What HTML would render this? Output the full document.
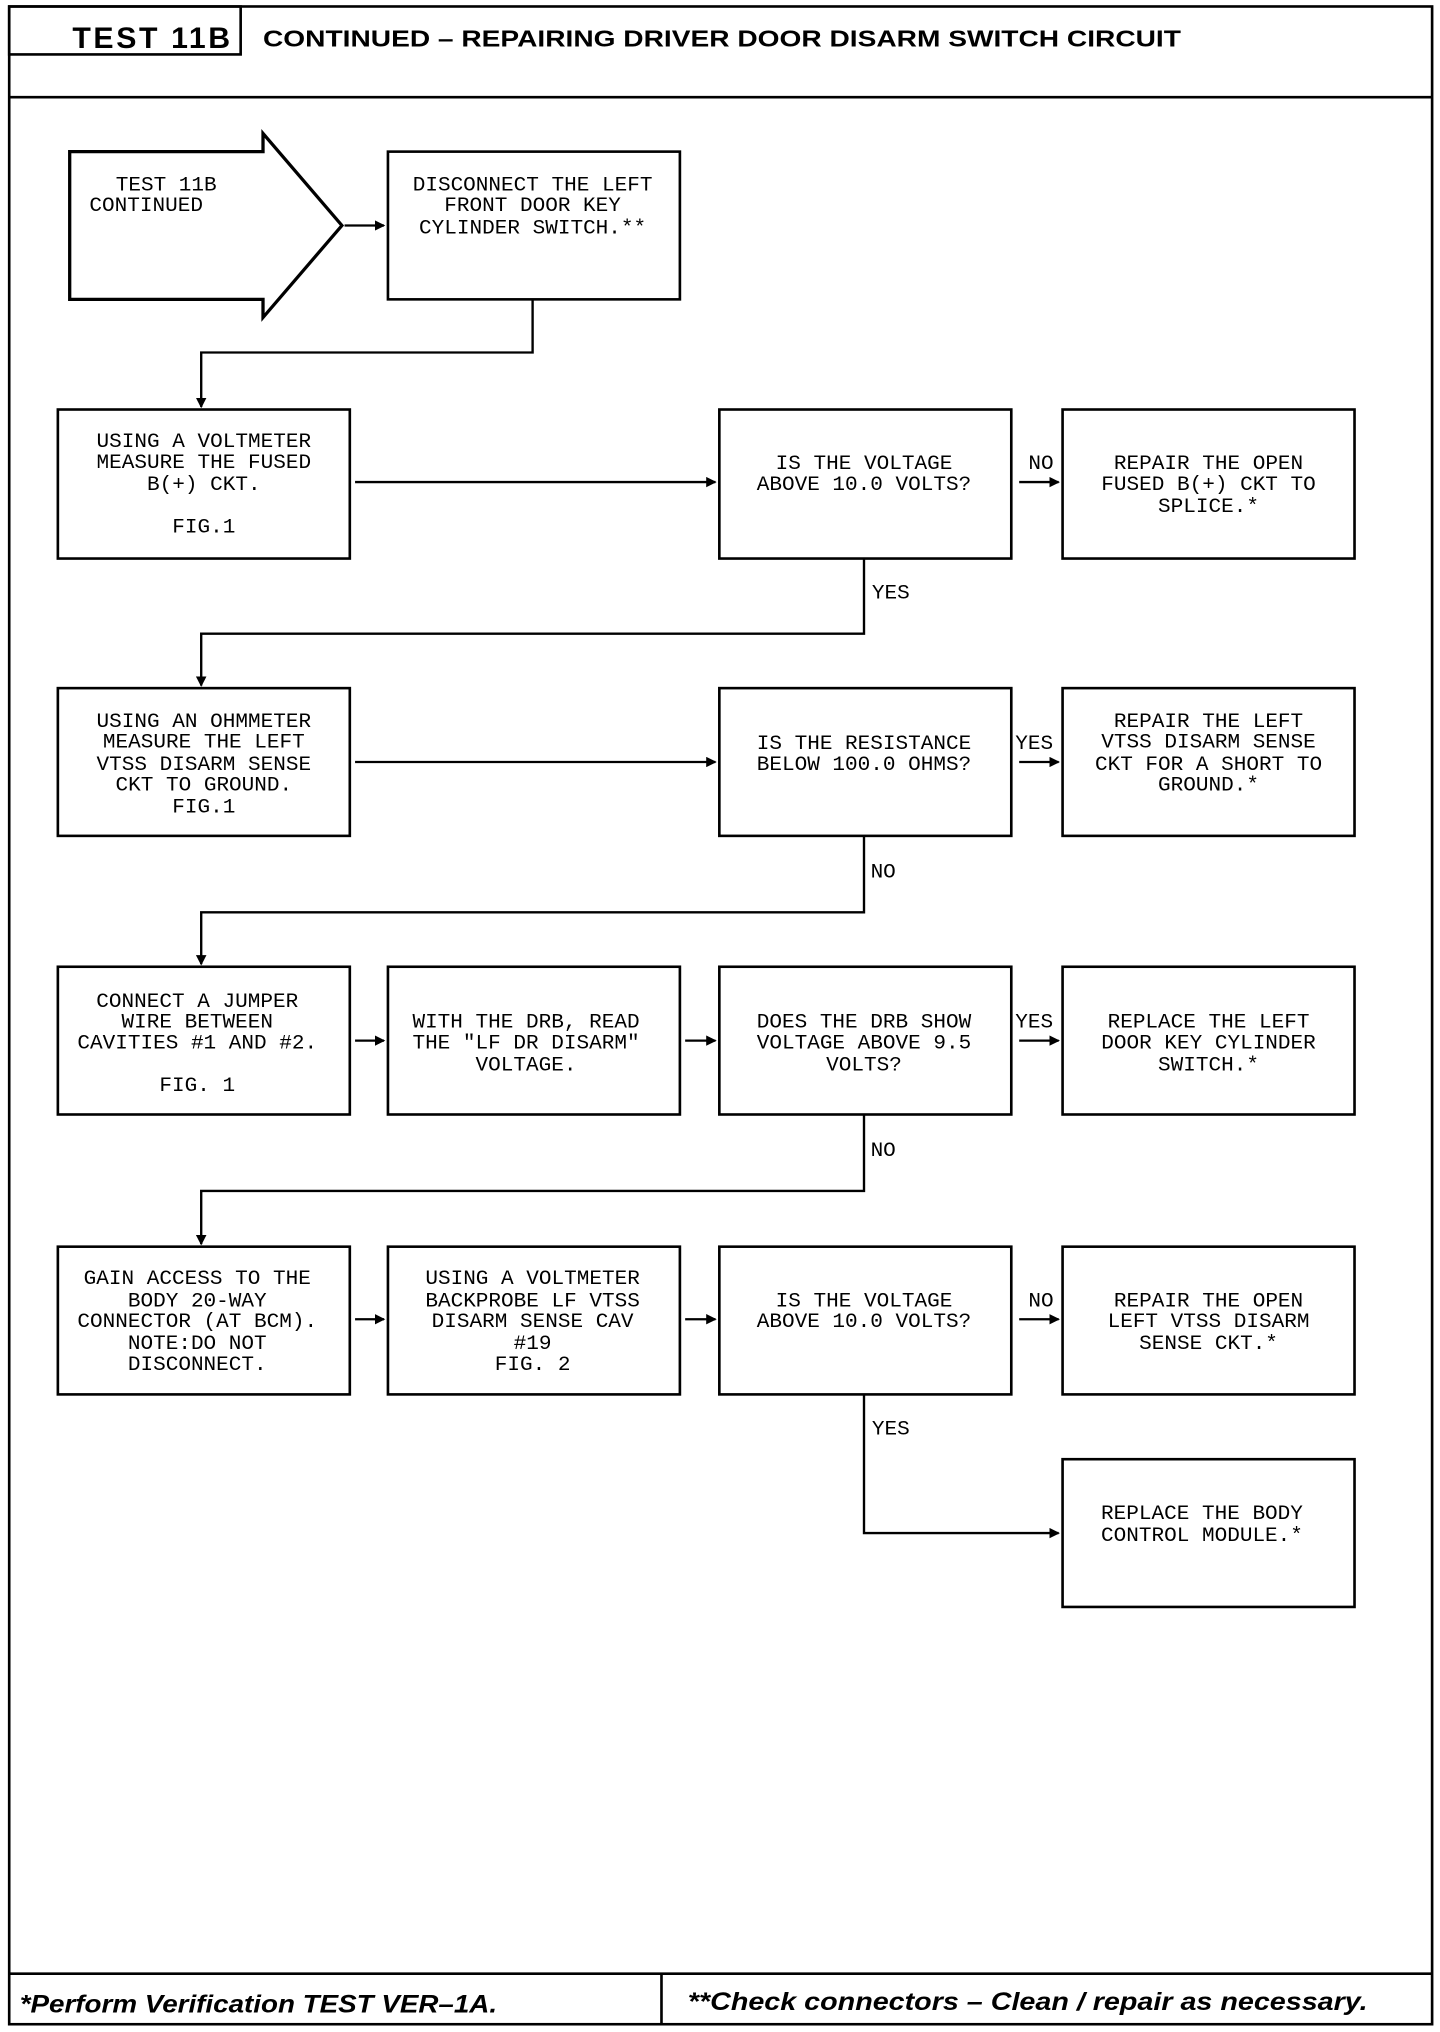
<!DOCTYPE html>
<html><head><meta charset="utf-8"><style>
html,body{margin:0;padding:0;background:#fff;}
svg{display:block;}
.m{font-family:"Liberation Mono",monospace;font-size:16px;fill:#000;}
</style></head><body>
<svg width="1440" height="2032" viewBox="0 0 1095 1568" preserveAspectRatio="none" xmlns="http://www.w3.org/2000/svg">
<defs><marker id="a" markerWidth="8" markerHeight="8" refX="7" refY="4" orient="auto" markerUnits="userSpaceOnUse"><path d="M0,0 L8,4 L0,8 Z" fill="#000"/></marker></defs>
<g fill="none" stroke="#000" stroke-width="2">
<rect x="7" y="5" width="1082" height="1557"/>
<rect x="7" y="5" width="176" height="37"/>
<line x1="7" y1="75" x2="1089" y2="75"/>
<line x1="7" y1="1523" x2="1089" y2="1523"/>
<line x1="503" y1="1523" x2="503" y2="1562"/>
<path d="M53,117 L200,117 L200,103 L260,174 L200,245 L200,231 L53,231 Z" stroke-width="2.5"/>
<rect x="295" y="117" width="222" height="114"/>
<rect x="44" y="316" width="222" height="115"/>
<rect x="547" y="316" width="222" height="115"/>
<rect x="808" y="316" width="222" height="115"/>
<rect x="44" y="531" width="222" height="114"/>
<rect x="547" y="531" width="222" height="114"/>
<rect x="808" y="531" width="222" height="114"/>
<rect x="44" y="746" width="222" height="114"/>
<rect x="295" y="746" width="222" height="114"/>
<rect x="547" y="746" width="222" height="114"/>
<rect x="808" y="746" width="222" height="114"/>
<rect x="44" y="962" width="222" height="114"/>
<rect x="295" y="962" width="222" height="114"/>
<rect x="547" y="962" width="222" height="114"/>
<rect x="808" y="962" width="222" height="114"/>
<rect x="808" y="1126" width="222" height="114"/>
</g>
<g fill="none" stroke="#000" stroke-width="1.8" marker-end="url(#a)">
<line x1="262" y1="174" x2="292" y2="174"/>
<polyline points="405,231 405,272 153,272 153,314"/>
<line x1="270" y1="372" x2="544" y2="372"/>
<line x1="775" y1="372" x2="805" y2="372"/>
<polyline points="657,431 657,489 153,489 153,529"/>
<line x1="270" y1="588" x2="544" y2="588"/>
<line x1="775" y1="588" x2="805" y2="588"/>
<polyline points="657,645 657,704 153,704 153,744"/>
<line x1="270" y1="803" x2="292" y2="803"/>
<line x1="521" y1="803" x2="544" y2="803"/>
<line x1="775" y1="803" x2="805" y2="803"/>
<polyline points="657,860 657,919 153,919 153,960"/>
<line x1="270" y1="1018" x2="292" y2="1018"/>
<line x1="521" y1="1018" x2="544" y2="1018"/>
<line x1="775" y1="1018" x2="805" y2="1018"/>
<polyline points="657,1076 657,1183 805,1183"/>
</g>
<text x="55" y="37" font-family="Liberation Sans,sans-serif" font-weight="bold" font-size="23" textLength="120">TEST 11B</text>
<text x="200" y="36" font-family="Liberation Sans,sans-serif" font-weight="bold" font-size="18" textLength="698" lengthAdjust="spacingAndGlyphs">CONTINUED – REPAIRING DRIVER DOOR DISARM SWITCH CIRCUIT</text>
<text x="15" y="1553" font-family="Liberation Sans,sans-serif" font-weight="bold" font-style="italic" font-size="19" textLength="363" lengthAdjust="spacingAndGlyphs">*Perform Verification TEST VER–1A.</text>
<text x="523" y="1551" font-family="Liberation Sans,sans-serif" font-weight="bold" font-style="italic" font-size="19" textLength="517" lengthAdjust="spacingAndGlyphs">**Check connectors – Clean / repair as necessary.</text>
<g class="m">
<text x="88" y="147">TEST 11B</text>
<text x="68" y="163">CONTINUED</text>
</g>
<g class="m" text-anchor="middle">
<text x="405" y="147">DISCONNECT THE LEFT</text><text x="405" y="163">FRONT DOOR KEY</text><text x="405" y="180">CYLINDER SWITCH.**</text>
<text x="155" y="345">USING A VOLTMETER</text><text x="155" y="361">MEASURE THE FUSED</text><text x="155" y="378">B(+) CKT.</text><text x="155" y="411">FIG.1</text>
<text x="657" y="362">IS THE VOLTAGE</text><text x="657" y="378">ABOVE 10.0 VOLTS?</text>
<text x="919" y="362">REPAIR THE OPEN</text><text x="919" y="378">FUSED B(+) CKT TO</text><text x="919" y="395">SPLICE.*</text>
<text x="155" y="561">USING AN OHMMETER</text><text x="155" y="577">MEASURE THE LEFT</text><text x="155" y="594">VTSS DISARM SENSE</text><text x="155" y="610">CKT TO GROUND.</text><text x="155" y="627">FIG.1</text>
<text x="657" y="578">IS THE RESISTANCE</text><text x="657" y="594">BELOW 100.0 OHMS?</text>
<text x="919" y="561">REPAIR THE LEFT</text><text x="919" y="577">VTSS DISARM SENSE</text><text x="919" y="594">CKT FOR A SHORT TO</text><text x="919" y="610">GROUND.*</text>
<text x="150" y="777">CONNECT A JUMPER</text><text x="150" y="793">WIRE BETWEEN</text><text x="150" y="809">CAVITIES #1 AND #2.</text><text x="150" y="842">FIG. 1</text>
<text x="400" y="793">WITH THE DRB, READ</text><text x="400" y="809">THE "LF DR DISARM"</text><text x="400" y="826">VOLTAGE.</text>
<text x="657" y="793">DOES THE DRB SHOW</text><text x="657" y="809">VOLTAGE ABOVE 9.5</text><text x="657" y="826">VOLTS?</text>
<text x="919" y="793">REPLACE THE LEFT</text><text x="919" y="809">DOOR KEY CYLINDER</text><text x="919" y="826">SWITCH.*</text>
<text x="150" y="991">GAIN ACCESS TO THE</text><text x="150" y="1008">BODY 20-WAY</text><text x="150" y="1024">CONNECTOR (AT BCM).</text><text x="150" y="1041">NOTE:DO NOT</text><text x="150" y="1057">DISCONNECT.</text>
<text x="405" y="991">USING A VOLTMETER</text><text x="405" y="1008">BACKPROBE LF VTSS</text><text x="405" y="1024">DISARM SENSE CAV</text><text x="405" y="1041">#19</text><text x="405" y="1057">FIG. 2</text>
<text x="657" y="1008">IS THE VOLTAGE</text><text x="657" y="1024">ABOVE 10.0 VOLTS?</text>
<text x="919" y="1008">REPAIR THE OPEN</text><text x="919" y="1024">LEFT VTSS DISARM</text><text x="919" y="1041">SENSE CKT.*</text>
<text x="914" y="1172">REPLACE THE BODY</text><text x="914" y="1189">CONTROL MODULE.*</text>
</g>
<g class="m">
<text x="782" y="362">NO</text><text x="663" y="462">YES</text>
<text x="772" y="578">YES</text><text x="662" y="677">NO</text>
<text x="772" y="793">YES</text><text x="662" y="892">NO</text>
<text x="782" y="1008">NO</text><text x="663" y="1107">YES</text>
</g>
</svg>
</body></html>
